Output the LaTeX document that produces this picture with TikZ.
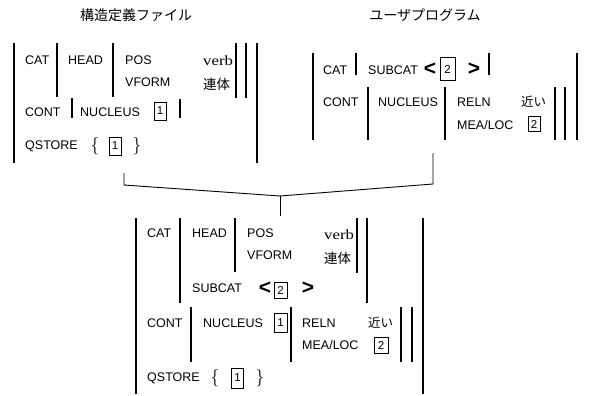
\documentclass[tikz,border=0pt]{standalone}
\usepackage{fontspec}
\setmainfont{Liberation Sans}
\newfontfamily\cjk{Noto Sans CJK JP}
\newfontfamily\serifrm{Liberation Serif}
\begin{document}
\begin{tikzpicture}[x=1pt,y=-1pt,
  lbl/.style={anchor=west, inner sep=0pt, font=\fontsize{12.5}{12.5}\selectfont},
  jp/.style={anchor=west, inner sep=0pt, font=\cjk\fontsize{13.5}{13.5}\selectfont},
  ttl/.style={inner sep=0pt, font=\cjk\fontsize{14}{14}\selectfont},
  vb/.style={anchor=west, inner sep=0pt, font=\serifrm\fontsize{14}{14}\selectfont, xscale=1.2},
  tag/.style={draw, line width=1pt, inner sep=0pt, minimum width=12pt, minimum height=16pt, font=\fontsize{11.5}{11.5}\selectfont},
  ang/.style={inner sep=0pt, font=\bfseries\fontsize{21}{21}\selectfont},
  brc/.style={inner sep=0pt, font=\fontsize{18}{18}\selectfont},
  bar/.style={line width=1.1pt},
  conn/.style={line width=0.9pt}]
\useasboundingbox (0,0) rectangle (589,396);

% ---------- titles ----------
\node[ttl] (t1) at (136,15) {構造定義ファイル};
\node[ttl] (t2) at (425,15) {ユーザプログラム};

% ---------- top-left AVM ----------
\node[lbl] (a-cat) at (25,60) {CAT};
\node[lbl] (a-head) at (68,60) {HEAD};
\node[lbl] (a-pos) at (125,60) {POS};
\node[lbl] (a-vform) at (125,82) {VFORM};
\node[vb] (a-verb) at (203,61) {verb};
\node[jp] (a-rentai) at (203,84) {連体};
\node[lbl] (a-cont) at (25,112) {CONT};
\node[lbl] (a-nuc) at (80,112) {NUCLEUS};
\node[tag, minimum width=12pt, minimum height=18pt] (a-b1) at (160,111) {1};
\node[lbl] (a-qs) at (25,146) {QSTORE};
\node[brc] (a-lb) at (95,146) {$\{$};
\node[tag, minimum height=18pt] (a-b1q) at (115,146) {1};
\node[brc] (a-rb) at (137,146) {$\}$};
\draw[bar] (14,43) -- (14,163);
\draw[bar] (57,43) -- (57,97);
\draw[bar] (113,43) -- (113,97);
\draw[bar] (236,43) -- (236,98);
\draw[bar] (246,43) -- (246,98);
\draw[bar] (257,43) -- (257,163);
\draw[bar] (72,98) -- (72,118);
\draw[bar] (180,99) -- (180,118);

% ---------- top-right AVM ----------
\node[lbl] (b-cat) at (323,70) {CAT};
\node[lbl] (b-sub) at (368,70) {SUBCAT};
\node[ang] (b-lt) at (430,69) {<};
\node[tag, minimum width=15pt, minimum height=23pt] (b-b2) at (447.5,69.5) {2};
\node[ang] (b-gt) at (474,69) {>};
\node[lbl] (b-cont) at (323,102) {CONT};
\node[lbl] (b-nuc) at (378,102) {NUCLEUS};
\node[lbl] (b-reln) at (457,102) {RELN};
\node[lbl] (b-mea) at (457,125) {MEA/LOC};
\node[jp, font=\cjk\fontsize{12.5}{12.5}\selectfont] (b-chikai) at (521,102) {近い};
\node[tag, minimum height=15pt] (b-b2m) at (534,124) {2};
\draw[bar] (313,53) -- (313,140);
\draw[bar] (356,53) -- (356,75);
\draw[bar] (489,53) -- (489,75);
\draw[bar] (368,87) -- (368,140);
\draw[bar] (445,87) -- (445,140);
\draw[bar] (555,87) -- (555,140);
\draw[bar] (565,87) -- (565,140);
\draw[bar] (577,53) -- (577,140);

% ---------- bottom AVM ----------
\node[lbl] (c-cat) at (147,233) {CAT};
\node[lbl] (c-head) at (192,233) {HEAD};
\node[lbl] (c-pos) at (247,233) {POS};
\node[lbl] (c-vform) at (247,255) {VFORM};
\node[vb] (c-verb) at (324,235) {verb};
\node[jp] (c-rentai) at (324,258) {連体};
\node[lbl] (c-sub) at (192,288) {SUBCAT};
\node[ang] (c-lt) at (265,288) {<};
\node[tag, minimum width=13pt, minimum height=16pt] (c-b2) at (280.5,290) {2};
\node[ang] (c-gt) at (308,288) {>};
\node[lbl] (c-cont) at (147,323) {CONT};
\node[lbl] (c-nuc) at (203,323) {NUCLEUS};
\node[tag, minimum width=13pt, minimum height=19pt] (c-b1) at (280.5,322.5) {1};
\node[lbl] (c-reln) at (302,323) {RELN};
\node[lbl] (c-mea) at (302,345) {MEA/LOC};
\node[jp, font=\cjk\fontsize{12.5}{12.5}\selectfont] (c-chikai) at (368,323) {近い};
\node[tag, minimum width=14pt, minimum height=16pt] (c-b2m) at (381,345.5) {2};
\node[lbl] (c-qs) at (147,378) {QSTORE};
\node[brc] (c-lb) at (215,378) {$\{$};
\node[tag, minimum width=12pt, minimum height=20pt] (c-b1q) at (237.5,378) {1};
\node[brc] (c-rb) at (260,378) {$\}$};
\draw[bar] (136,218) -- (136,394);
\draw[bar] (180,218) -- (180,303);
\draw[bar] (235,218) -- (235,272);
\draw[bar] (357,218) -- (357,273);
\draw[bar] (367,218) -- (367,303);
\draw[bar] (191,307) -- (191,362);
\draw[bar] (291,307) -- (291,362);
\draw[bar] (401,307) -- (401,362);
\draw[bar] (412,307) -- (412,362);
\draw[bar] (423,218) -- (423,394);

% ---------- unification connector ----------
\coordinate (srcA) at (124,173);
\coordinate (cornA) at (124,185);
\coordinate (srcB) at (433,153);
\coordinate (cornB) at (433,184);
\coordinate (join) at (280,196);
\coordinate (tgt) at (280,216);
\draw[conn] (srcA) -- (cornA) -- (join) -- (cornB) -- (srcB);
\draw[conn] (join) -- (tgt);
\end{tikzpicture}
\end{document}
